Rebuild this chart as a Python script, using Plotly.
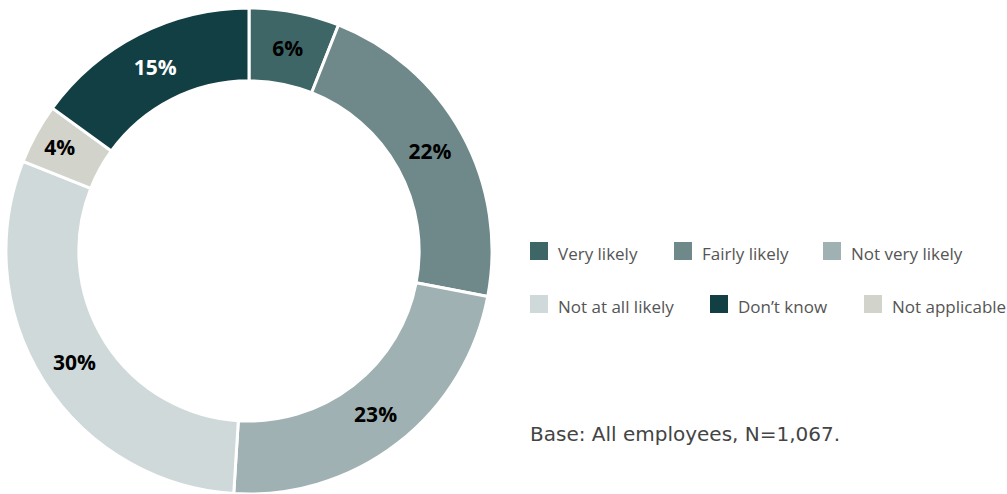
import plotly.graph_objects as go

# Survey responses, in clockwise slice order starting at 12 o'clock
slice_labels = ["Very likely", "Fairly likely", "Not very likely",
                "Not at all likely", "Not applicable", "Don’t know"]
slice_values = [6, 22, 23, 30, 4, 15]
slice_colors = ["#3e6667", "#6f898b", "#9fb1b2", "#cfd9da", "#d2d3cb", "#123f43"]
label_colors = ["#000000", "#000000", "#000000", "#000000", "#000000", "#ffffff"]

# Legend entries, in reading order (two rows of three)
legend_labels = ["Very likely", "Fairly likely", "Not very likely",
                 "Not at all likely", "Don’t know", "Not applicable"]
legend_colors = ["#3e6667", "#6f898b", "#9fb1b2", "#cfd9da", "#123f43", "#d2d3cb"]

base_note = "Base: All employees, N=1,067."

W, H = 1007, 494

fig = go.Figure(go.Pie(
    labels=slice_labels,
    values=slice_values,
    sort=False,
    direction="clockwise",
    rotation=0,
    hole=0.70,
    marker=dict(colors=slice_colors, line=dict(color="#ffffff", width=3)),
    texttemplate="%{value}%",
    textposition="inside",
    insidetextorientation="horizontal",
    textfont=dict(family="Open Sans", size=21, color=label_colors, weight=700),
    domain=dict(x=[5 / W, 493 / W], y=[0, 0.984]),
    showlegend=False,
    hoverinfo="label+percent",
))

# Hand-built legend: square swatch + label for each entry
legend_pos = [(530, 251), (674, 251), (823, 251),
              (530, 304), (710, 304), (864, 304)]
shapes = []
annotations = []
for (x0, yc), name, col in zip(legend_pos, legend_labels, legend_colors):
    shapes.append(dict(type="rect", xref="paper", yref="paper",
                       x0=x0 / W, x1=(x0 + 18) / W,
                       y0=1 - (yc + 9) / H, y1=1 - (yc - 9) / H,
                       fillcolor=col, line=dict(width=0)))
    annotations.append(dict(text=name, xref="paper", yref="paper",
                            x=(x0 + 26) / W, y=1 - (yc + 2) / H,
                            xanchor="left", yanchor="middle", showarrow=False,
                            font=dict(family="Open Sans", size=17, color="#555555")))

annotations.append(dict(text=base_note, xref="paper", yref="paper",
                        x=528 / W, y=1 - 434 / H, xanchor="left", yanchor="middle",
                        showarrow=False,
                        font=dict(family="DejaVu Sans", size=20, color="#444444")))

fig.update_layout(
    width=W, height=H,
    margin=dict(l=0, r=0, t=0, b=0),
    paper_bgcolor="#ffffff",
    plot_bgcolor="#ffffff",
    shapes=shapes,
    annotations=annotations,
)

fig.write_html("out.html")
